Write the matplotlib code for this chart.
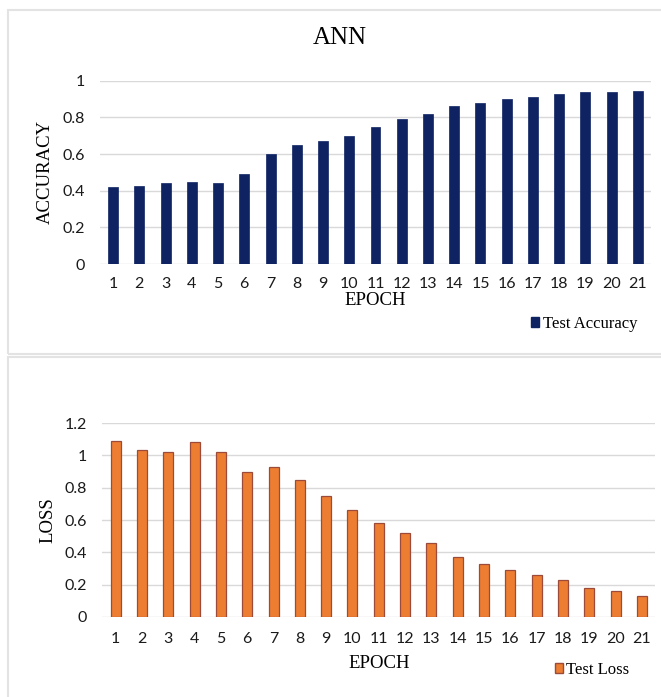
import matplotlib.pyplot as plt
from matplotlib.patches import Rectangle, Patch

# data
epochs = list(range(1, 22))
test_accuracy = [0.42, 0.425, 0.44, 0.45, 0.44, 0.49, 0.60, 0.65, 0.67, 0.70, 0.75,
                 0.79, 0.82, 0.86, 0.88, 0.90, 0.91, 0.93, 0.94, 0.94, 0.945]
test_loss = [1.09, 1.03, 1.02, 1.08, 1.02, 0.90, 0.93, 0.85, 0.75, 0.66, 0.58,
             0.52, 0.46, 0.37, 0.33, 0.29, 0.26, 0.23, 0.18, 0.16, 0.13]
acc_ticks = [0, 0.2, 0.4, 0.6, 0.8, 1]
loss_ticks = [0, 0.2, 0.4, 0.6, 0.8, 1, 1.2]

NAVY = '#0f2363'
ORANGE = '#ed7d31'
GRID = '#d9d9d9'
SERIF = 'Liberation Serif'
SANS = 'Lato'

fig = plt.figure(figsize=(6.61, 6.97), dpi=100)

# chart frames like the spreadsheet export
fig.patches.append(Rectangle((8 / 661, 1 - 354 / 697), 1.0, 344 / 697, transform=fig.transFigure,
                             fill=False, edgecolor='#e3e3e3', linewidth=1.5))
fig.patches.append(Rectangle((8 / 661, -0.1), 1.0, 1 - 357 / 697 + 0.1, transform=fig.transFigure,
                             fill=False, edgecolor='#e3e3e3', linewidth=1.5))


def tick_label(v):
    return '%g' % v


def style_axes(ax, ticks, top):
    ax.set_xlim(0.5, 21.5)
    ax.set_ylim(0, top)
    ax.set_yticks(ticks)
    ax.set_yticklabels([tick_label(t) for t in ticks], fontfamily=SANS, fontsize=11.5, color='#1a1a1a')
    ax.set_xticks(epochs)
    ax.set_xticklabels([str(e) for e in epochs], fontfamily=SANS, fontsize=11.5, color='#1a1a1a')
    ax.tick_params(length=0, pad=9)
    ax.tick_params(axis='y', pad=11)
    for s in ax.spines.values():
        s.set_visible(False)
    ax.yaxis.grid(True, color=GRID, linewidth=1)
    ax.set_axisbelow(True)


# top: accuracy
ax1 = fig.add_axes([100 / 661, 1 - 264 / 697, 551 / 661, 183.3 / 697])
ax1.bar(epochs, test_accuracy, width=0.38, color=NAVY, edgecolor=NAVY, linewidth=0.5)
style_axes(ax1, acc_ticks, 1.0)
ax1.set_xlabel('EPOCH', fontfamily=SERIF, fontsize=13.5, labelpad=1)
ax1.set_ylabel('ACCURACY', fontfamily=SERIF, fontsize=13.5, labelpad=6)
fig.text(340 / 661, 1 - 38 / 697, 'ANN', fontfamily=SERIF, fontsize=18, ha='center', va='center')
leg1 = ax1.legend(handles=[Patch(facecolor=NAVY, edgecolor=NAVY, label='Test Accuracy')],
                  loc='center', bbox_to_anchor=(584 / 661, 1 - 324 / 697), bbox_transform=fig.transFigure,
                  frameon=False, prop={'family': SERIF, 'size': 12}, handlelength=0.5, handleheight=0.5,
                  handletextpad=0.2, borderpad=0)

# bottom: loss
ax2 = fig.add_axes([102.5 / 661, 1 - 617 / 697, 552.5 / 661, 194 / 697])
ax2.bar(epochs, test_loss, width=0.38, color=ORANGE, edgecolor='#9c4a3a', linewidth=0.9)
style_axes(ax2, loss_ticks, 1.2)
ax2.tick_params(axis='x', pad=11)
ax2.set_xlabel('EPOCH', fontfamily=SERIF, fontsize=13.5, labelpad=6)
ax2.set_ylabel('LOSS', fontfamily=SERIF, fontsize=13.5, labelpad=6)
leg2 = ax2.legend(handles=[Patch(facecolor=ORANGE, edgecolor='#9c4a3a', label='Test Loss')],
                  loc='center', bbox_to_anchor=(592 / 661, 1 - 670 / 697), bbox_transform=fig.transFigure,
                  frameon=False, prop={'family': SERIF, 'size': 12}, handlelength=0.5, handleheight=0.5,
                  handletextpad=0.2, borderpad=0)

fig.savefig('out.png', dpi=100)
